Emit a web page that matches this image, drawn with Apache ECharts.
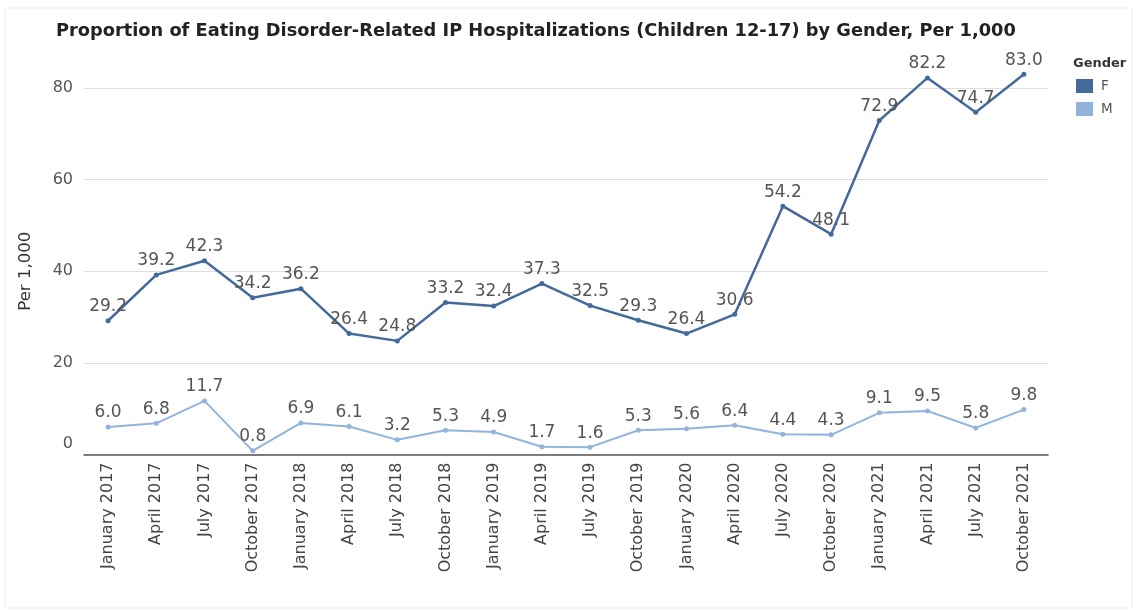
<!DOCTYPE html>
<html>
<head>
<meta charset="utf-8">
<script src="https://cdn.jsdelivr.net/npm/echarts@6/dist/echarts.min.js"></script>
<style>html,body{margin:0;padding:0;background:#fff}#c{width:1137px;height:612px}</style>
</head>
<body>
<div id="c"></div>
<script>
var categories = ["January 2017","April 2017","July 2017","October 2017","January 2018","April 2018","July 2018","October 2018","January 2019","April 2019","July 2019","October 2019","January 2020","April 2020","July 2020","October 2020","January 2021","April 2021","July 2021","October 2021"];
var femaleValues = [29.2,39.2,42.3,34.2,36.2,26.4,24.8,33.2,32.4,37.3,32.5,29.3,26.4,30.6,54.2,48.1,72.9,82.2,74.7,83.0];
var maleValues = [6.0,6.8,11.7,0.8,6.9,6.1,3.2,5.3,4.9,1.7,1.6,5.3,5.6,6.4,4.4,4.3,9.1,9.5,5.8,9.8];
var yTicks = [0,20,40,60,80];

var FONT = 'DejaVu Sans, sans-serif';
var chart = echarts.init(document.getElementById('c'));
var F_COLOR = '#44699b', M_COLOR = '#92b4dc';
var labelStyle = {show:true, position:'top', distance:3, fontFamily:FONT, fontSize:17, color:'#555',
  formatter:function(p){return p.value.toFixed(1);}};
chart.setOption({
  animation:false,
  title:{text:'Proportion of Eating Disorder-Related IP Hospitalizations (Children 12-17) by Gender, Per 1,000',
    left:51, top:17, textStyle:{fontFamily:FONT, fontSize:17.8, fontWeight:'bold', color:'#222'}},
  graphic:[
    {type:'rect', shape:{x:5,y:8,width:1127,height:600}, style:{fill:'none', stroke:'#eeeeee', lineWidth:1}, silent:true},
    {type:'text', left:1073, top:57, style:{text:'Gender', fontFamily:FONT, fontSize:13, fontWeight:'bold', fill:'#333'}}
  ],
  legend:{orient:'vertical', left:1076, top:79, padding:0, itemWidth:17, itemHeight:14, itemGap:9, icon:'rect',
    textStyle:{fontFamily:FONT, fontSize:13.5, color:'#555', padding:[0,0,0,3]},
    data:[{name:'F', itemStyle:{color:F_COLOR}},{name:'M', itemStyle:{color:M_COLOR}}]},
  grid:{left:84, top:88, width:964, height:366.5, containLabel:false},
  xAxis:{type:'category', data:categories, boundaryGap:true,
    axisLine:{lineStyle:{color:'#555', width:1.5}}, axisTick:{show:false},
    axisLabel:{rotate:90, interval:0, margin:8, fontFamily:FONT, fontSize:16, color:'#444'}},
  yAxis:{type:'value', min:0, max:80, interval:20, name:'Per 1,000', nameLocation:'middle', nameGap:50,
    nameTextStyle:{fontFamily:FONT, fontSize:16.5, color:'#333'},
    axisLine:{show:false}, axisTick:{show:false},
    splitLine:{lineStyle:{color:'#dddddd', width:1}},
    axisLabel:{margin:11, fontFamily:FONT, fontSize:16, color:'#555',
      formatter:function(v){return v===0?'{z|0}':String(v);},
      rich:{z:{fontFamily:FONT, fontSize:16, color:'#555', padding:[0,0,22,0]}}}},
  series:[
    {name:'F', type:'line', data:femaleValues, clip:false, color:F_COLOR, symbol:'circle', symbolSize:5,
      lineStyle:{width:2.5, color:F_COLOR}, itemStyle:{color:F_COLOR}, label:labelStyle},
    {name:'M', type:'line', data:maleValues, clip:false, color:M_COLOR, symbol:'circle', symbolSize:5,
      lineStyle:{width:2, color:M_COLOR}, itemStyle:{color:M_COLOR}, label:labelStyle}
  ]
});
</script>
</body>
</html>
